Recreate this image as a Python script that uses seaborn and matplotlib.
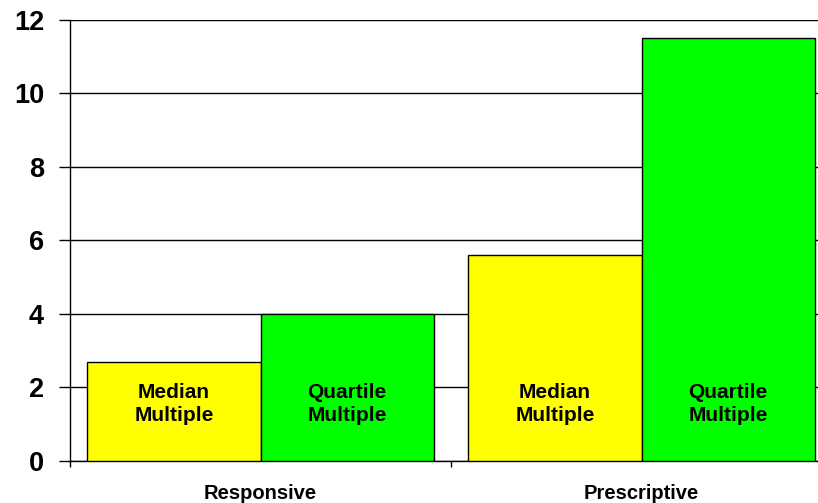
import pandas as pd
import matplotlib.pyplot as plt
import seaborn as sns
from matplotlib.ticker import FixedLocator

# Data
categories = ['Responsive', 'Prescriptive']
measures = ['Median\nMultiple', 'Quartile\nMultiple']
median_vals = [2.7, 5.6]
quartile_vals = [4.0, 11.5]
y_ticks = [0, 2, 4, 6, 8, 10, 12]

df = pd.DataFrame({
    'category': categories * 2,
    'measure': [measures[0]] * 2 + [measures[1]] * 2,
    'value': median_vals + quartile_vals,
})

sns.set_style('white')
plt.rcParams['font.family'] = ['Liberation Sans', 'DejaVu Sans']
plt.rcParams['font.weight'] = 'bold'
plt.rcParams['text.color'] = 'black'
plt.rcParams['xtick.color'] = 'black'
plt.rcParams['ytick.color'] = 'black'

fig = plt.figure(figsize=(8.18, 5.03), dpi=100)
ax = fig.add_axes([70 / 818, 42 / 503, 762 / 818, 441.5 / 503])

sns.barplot(data=df, x='category', y='value', hue='measure', order=categories,
            hue_order=measures, palette=['#FFFF00', '#00FF00'], saturation=1,
            edgecolor='black', linewidth=1, width=0.91, ax=ax, legend=False,
            zorder=3)

# labels inside the bars, all at the same height
for container, label in zip(ax.containers, measures):
    for bar in container:
        ax.text(bar.get_x() + bar.get_width() / 2, 1.55, label, ha='center',
                va='center', fontsize=15, fontweight='bold', linespacing=1.32,
                color='black', zorder=4)

ax.set_ylim(0, 12)
ax.set_xlim(-0.5, 1.5)
ax.set_yticks(y_ticks)
ax.set_yticklabels([str(t) for t in y_ticks], fontsize=19.5, fontweight='bold')
ax.yaxis.grid(True, color='black', linewidth=1)
ax.set_axisbelow(True)
ax.tick_params(axis='y', left=True, length=7.7, width=1, pad=11)
ax.tick_params(axis='x', which='major', length=0, labelsize=14.5, pad=16.5)
ax.xaxis.set_minor_locator(FixedLocator([-0.5, 0.5, 1.5]))
ax.tick_params(axis='x', which='minor', bottom=True, length=4.3, width=1)
for lbl in ax.get_xticklabels():
    lbl.set_fontweight('bold')
ax.set_xlabel('')
ax.set_ylabel('')

for side in ['top', 'right']:
    ax.spines[side].set_visible(False)
for side in ['left', 'bottom']:
    ax.spines[side].set_color('black')
    ax.spines[side].set_linewidth(1)

fig.savefig('out.png', dpi=100)
